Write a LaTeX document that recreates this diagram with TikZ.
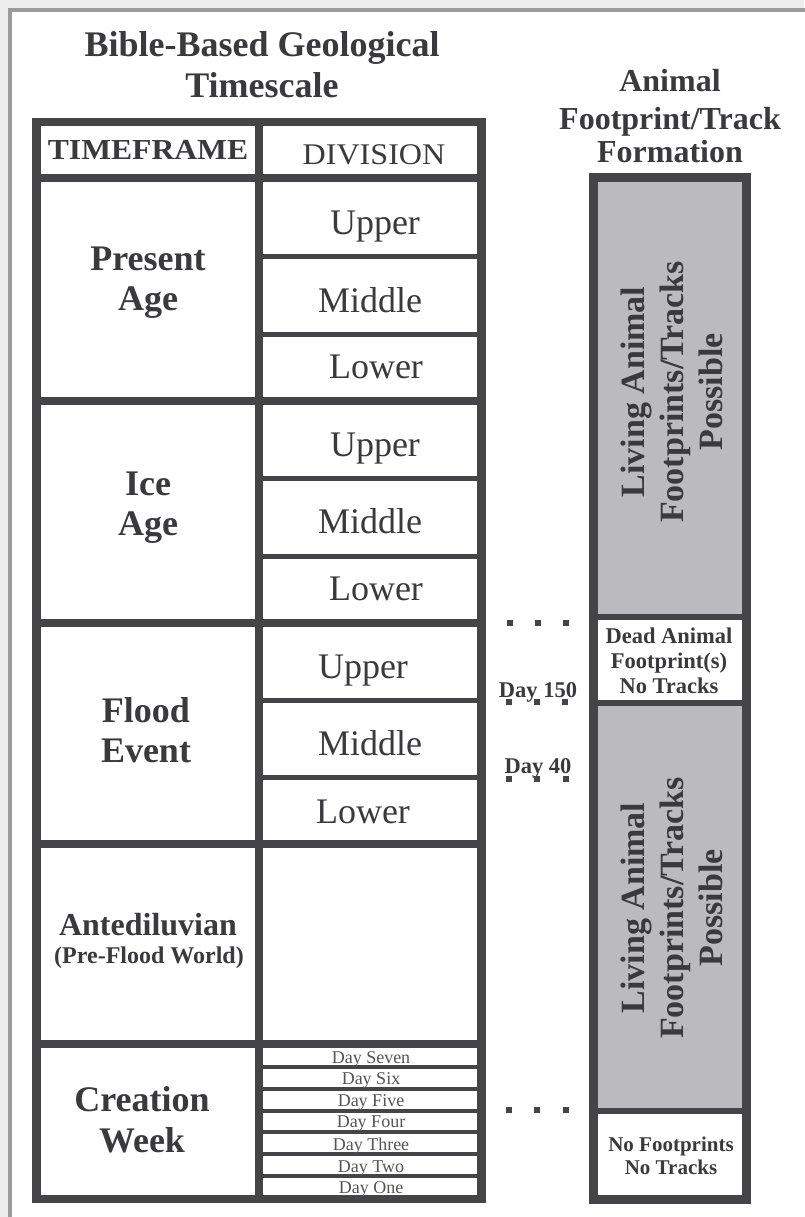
\documentclass[tikz,border=0pt]{standalone}
\usepackage{fontspec}
\setmainfont{Liberation Serif}
\definecolor{ln}{HTML}{454547}
\definecolor{tx}{HTML}{3A3A3C}
\definecolor{txl}{HTML}{555557}
\definecolor{fillg}{HTML}{BBBBBD}
\definecolor{frm}{HTML}{9B9B9D}
\definecolor{bgc}{HTML}{EDEDEE}
\newcommand\fsz[1]{\fontsize{#1}{#1}\selectfont}
\tikzset{
  heavy/.style={line width=8.5pt, draw=ln},
  thinrule/.style={line width=5pt, draw=ln},
  dayrule/.style={line width=4.5pt, draw=ln},
  lbl/.style={anchor=base, inner sep=0pt, text=tx},
  bl/.style={lbl, font=\bfseries\fsz{36}},
  dv/.style={lbl, font=\fsz{36}},
  dy/.style={anchor=base, inner sep=0pt, text=txl, font=\fsz{18}},
  sq/.style={rectangle, fill=ln, minimum size=6pt, inner sep=0pt},
  vtext/.style={rotate=90, align=center, inner sep=0pt, text=tx, font=\bfseries\fontsize{34}{39}\selectfont}
}
\begin{document}
\begin{tikzpicture}[x=1pt,y=-1pt]
\useasboundingbox (0,0) rectangle (804,1217);
% background and frame
\fill[bgc] (0,0) rectangle (804,1217);
\fill[white] (10,10) rectangle (820,1230);
\draw[frm, line width=4.5pt] (10,1230) -- (10,10) -- (820,10);

% title
\node[lbl, font=\bfseries\fsz{36}] (t1) at (262,57) {Bible-Based Geological};
\node[lbl, font=\bfseries\fsz{36}] (t2) at (262,98) {Timescale};

% right header
\node[lbl, font=\bfseries\fsz{32}] (h1) at (670,92) {Animal};
\node[lbl, font=\bfseries\fsz{32}] (h2) at (670,130) {Footprint/Track};
\node[lbl, font=\bfseries\fsz{32}] (h3) at (670,163) {Formation};

% left table structure
\draw[heavy] (36.5,122) rectangle (481.5,1199);
\draw[heavy] (36.5,178) -- (481.5,178);
\draw[heavy] (259,122) -- (259,1199);
\foreach \yy in {401,623,844,1044} \draw[heavy] (36.5,\yy) -- (481.5,\yy);
\foreach \yy in {256,334.5,478.5,556,700,777.5} \draw[thinrule] (259,\yy) -- (481.5,\yy);
\foreach \yy in {1067,1089,1111,1132,1154,1176} \draw[dayrule] (259,\yy) -- (481.5,\yy);

% header texts
\node[lbl, font=\bfseries\fsz{29}] (tf) at (148,160) {\scalebox{1.09}[1]{TIMEFRAME}};
\node[lbl, font=\fsz{30}] (dvh) at (374,165) {\scalebox{1.07}[1]{DIVISION}};

% left labels
\node[bl] (pa1) at (148,270) {Present};
\node[bl] (pa2) at (148,310) {Age};
\node[bl] (ia1) at (148,495) {Ice};
\node[bl] (ia2) at (148,535) {Age};
\node[bl] (fe1) at (146,722) {Flood};
\node[bl] (fe2) at (146,762) {Event};
\node[lbl, font=\bfseries\fsz{32}] (an1) at (148,935) {Antediluvian};
\node[lbl, font=\bfseries\fsz{24}] (an2) at (149,963) {(Pre-Flood World)};
\node[bl] (cw1) at (142,1111) {Creation};
\node[bl] (cw2) at (142,1152) {Week};

% divisions
\node[dv] (pu) at (375,234) {Upper};
\node[dv] (pm) at (370,312) {Middle};
\node[dv] (pl) at (376,378) {Lower};
\node[dv] (iu) at (375,456) {Upper};
\node[dv] (im) at (370,533) {Middle};
\node[dv] (il) at (376,600) {Lower};
\node[dv] (fu) at (363,678) {Upper};
\node[dv] (fm) at (370,755) {Middle};
\node[dv] (fl) at (363,823) {Lower};

% days
\node[dy] (d7) at (371,1063) {Day Seven};
\node[dy] (d6) at (371,1084) {Day Six};
\node[dy] (d5) at (371,1106) {Day Five};
\node[dy] (d4) at (371,1127) {Day Four};
\node[dy] (d3) at (371,1150) {Day Three};
\node[dy] (d2) at (371,1172) {Day Two};
\node[dy] (d1) at (371,1193) {Day One};

% right column
\fill[fillg] (593.5,178) rectangle (746,617);
\fill[fillg] (593.5,703) rectangle (746,1111);
\draw[line width=9pt, draw=ln] (593.5,178) rectangle (746,1199);
\foreach \yy in {617,703,1111} \draw[line width=5.5pt, draw=ln] (593.5,\yy) -- (746,\yy);

\node[vtext] (lv1) at (672,392) {Living Animal\\Footprints/Tracks\\Possible};
\node[vtext] (lv2) at (672,908) {Living Animal\\Footprints/Tracks\\Possible};

\node[lbl, font=\bfseries\fsz{22.5}] (da1) at (669,643) {Dead Animal};
\node[lbl, font=\bfseries\fsz{22.5}] (da2) at (669,668) {Footprint(s)};
\node[lbl, font=\bfseries\fsz{22.5}] (da3) at (669,693) {No Tracks};

\node[lbl, font=\bfseries\fsz{21}] (nf1) at (671,1151) {No Footprints};
\node[lbl, font=\bfseries\fsz{21}] (nf2) at (671,1174) {No Tracks};

% middle markers
\node[sq] (s1) at (510,623) {};
\node[sq] (s2) at (538,623) {};
\node[sq] (s3) at (566,623) {};
\node[lbl, font=\bfseries\fsz{22.5}] (day150) at (538,697) {Day 150};
\node[sq] (s4) at (509,702) {};
\node[sq] (s5) at (537,702) {};
\node[sq] (s6) at (565,702) {};
\node[lbl, font=\bfseries\fsz{22.5}] (day40) at (538,773) {Day 40};
\node[sq] (s7) at (509,779) {};
\node[sq] (s8) at (537,779) {};
\node[sq] (s9) at (566,779) {};
\node[sq] (s10) at (509,1110) {};
\node[sq] (s11) at (537,1110) {};
\node[sq] (s12) at (566,1110) {};
\end{tikzpicture}
\end{document}
